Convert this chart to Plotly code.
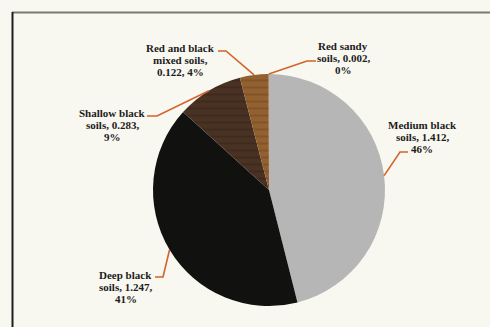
import math
import plotly.graph_objects as go

# ---- data ----
categories = ["Medium black soils", "Deep black soils", "Shallow black soils",
              "Red and black mixed soils", "Red sandy soils"]
values = [1.412, 1.247, 0.283, 0.122, 0.002]
label_lines = [["Medium black", "soils, 1.412,", "46%"],
               ["Deep black", "soils, 1.247,", "41%"],
               ["Shallow black", "soils, 0.283,", "9%"],
               ["Red and black", "mixed soils,", "0.122, 4%"],
               ["Red sandy", "soils, 0.002,", "0%"]]

W, H = 490, 327
CX, CY, R = 269, 190, 116   # pie centre / radius in pixels
LINE_GAP = 12

def px(x):
    return x / W

def py(y):
    return 1 - y / H

colors = ["#b6b6b6", "#111110", "#4a3222", "#93602f", "#a9743f"]
pattern_fg = ["#b6b6b6", "#111110", "#33221a", "#734624", "#7c5028"]
pattern_shape = ["", "", "-", "-", "-"]

fig = go.Figure(go.Pie(
    labels=categories, values=values, sort=False, direction="clockwise",
    rotation=0, textinfo="none", hoverinfo="label+value+percent",
    marker=dict(colors=colors, line=dict(width=0),
                pattern=dict(shape=pattern_shape, fgcolor=pattern_fg,
                             size=7, solidity=0.3, fillmode="overlay")),
    domain=dict(x=[px(CX - R), px(CX + R)], y=[py(CY + R), py(CY - R)]),
    showlegend=False,
))

# label layout (text centre, text-side leader start, elbow)
label_pos = [
    dict(tx=422, ty=137, sx=408, sy=152, ex=400, ey=152),
    dict(tx=126, ty=287, sx=155, sy=277, ex=163, ey=277),
    dict(tx=112, ty=125, sx=147, sy=116, ex=157, ey=116),
    dict(tx=180, ty=60, sx=218, sy=51, ex=226, ey=51),
    dict(tx=343, ty=58, sx=316, sy=61, ex=307, ey=61),
]

total = sum(values)
cum = 0.0
shapes = []
annotations = []
for v, lines, p in zip(values, label_lines, label_pos):
    mid = (cum + v / 2) / total * 2 * math.pi
    cum += v
    edge_x = CX + R * math.sin(mid)
    edge_y = CY - R * math.cos(mid)
    path = "M {} {} L {} {} L {} {}".format(
        px(p["sx"]), py(p["sy"]), px(p["ex"]), py(p["ey"]), px(edge_x), py(edge_y))
    shapes.append(dict(type="path", xref="paper", yref="paper", path=path,
                       line=dict(color="#d2642a", width=1.6)))
    n = len(lines)
    for i, line in enumerate(lines):
        y = p["ty"] + (i - (n - 1) / 2) * LINE_GAP
        annotations.append(dict(x=px(p["tx"]), y=py(y), xref="paper", yref="paper",
                                text="<b>" + line + "</b>", showarrow=False,
                                xanchor="center", yanchor="middle", align="center",
                                font=dict(family="Liberation Serif", size=11,
                                          color="#1c1c1c")))

# frame lines (top grey, left dark)
shapes.append(dict(type="line", xref="paper", yref="paper",
                   x0=px(12), x1=1, y0=py(12.5), y1=py(12.5),
                   line=dict(color="#7a7a72", width=2)))
shapes.append(dict(type="line", xref="paper", yref="paper",
                   x0=px(12.5), x1=px(12.5), y0=py(12), y1=0,
                   line=dict(color="#1e1e1e", width=2)))

fig.update_layout(
    width=W, height=H, margin=dict(l=0, r=0, t=0, b=0),
    paper_bgcolor="#f8f7f0", plot_bgcolor="#f8f7f0",
    shapes=shapes, annotations=annotations,
)

fig.write_html("out.html")
